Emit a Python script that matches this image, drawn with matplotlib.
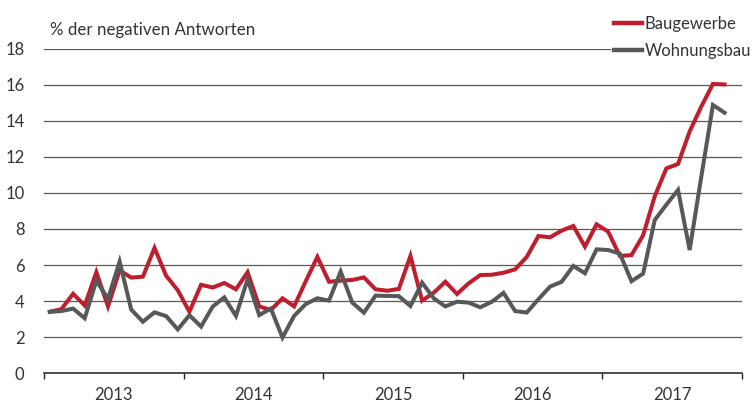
"""Negative answers in construction vs. residential building, monthly 2013-2017."""

import numpy as np
import matplotlib.pyplot as plt
from matplotlib.ticker import FixedLocator, NullFormatter

plt.rcParams["font.family"] = ["Lato", "DejaVu Sans"]

YEARS = ["2013", "2014", "2015", "2016", "2017"]

# monthly values, Jan 2013 .. Nov 2017
BAUGEWERBE = [
    3.4, 3.55, 4.4, 3.75, 5.6, 3.7, 5.7, 5.3, 5.35, 6.95, 5.4, 4.6,
    3.4, 4.9, 4.75, 5.0, 4.65, 5.6, 3.7, 3.5, 4.15, 3.7, 5.1, 6.45,
    5.07, 5.13, 5.17, 5.31, 4.65, 4.57, 4.67, 6.5, 4.02, 4.46, 5.07, 4.39,
    4.98, 5.44, 5.46, 5.57, 5.76, 6.45, 7.61, 7.54, 7.91, 8.17, 7.02, 8.26,
    7.85, 6.5, 6.55, 7.65, 9.82, 11.37, 11.61, 13.42, 14.8, 16.06, 16.03,
]
WOHNUNGSBAU = [
    3.4, 3.44, 3.58, 3.04, 5.13, 4.12, 6.19, 3.52, 2.85, 3.37, 3.16, 2.42,
    3.21, 2.58, 3.69, 4.2, 3.17, 5.2, 3.22, 3.58, 1.97, 3.17, 3.83, 4.15,
    4.02, 5.63, 3.91, 3.35, 4.3, 4.28, 4.27, 3.72, 5.02, 4.15, 3.7, 3.96,
    3.91, 3.65, 3.96, 4.45, 3.44, 3.36, 4.1, 4.8, 5.07, 5.95, 5.54, 6.87,
    6.83, 6.63, 5.1, 5.52, 8.5, 9.35, 10.17, 6.83, 10.9, 14.89, 14.46,
]

RED = "#BE1E2D"
GREY = "#56585A"


def main() -> None:
    fig = plt.figure(figsize=(7.52, 4.03), dpi=100)
    ax = fig.add_axes([44 / 752, 30 / 403, 698 / 752, 324 / 403])

    x = np.arange(len(BAUGEWERBE))
    ax.plot(x, BAUGEWERBE, color=RED, lw=2.9, label="Baugewerbe", zorder=3,
            solid_joinstyle="miter")
    ax.plot(x, WOHNUNGSBAU, color=GREY, lw=2.9, label="Wohnungsbau", zorder=3,
            solid_joinstyle="miter")

    ax.set_ylim(0, 18)
    ax.set_yticks(np.arange(0, 19, 2))
    ax.set_xlim(-0.5, 12 * len(YEARS) - 0.5)

    # year boundaries as major ticks, labels centred on the year
    ax.xaxis.set_major_locator(FixedLocator(np.arange(len(YEARS) + 1) * 12 - 0.5))
    ax.xaxis.set_major_formatter(NullFormatter())
    ax.xaxis.set_minor_locator(FixedLocator(np.arange(len(YEARS)) * 12 + 5.5))
    ax.set_xticklabels(YEARS, minor=True)
    ax.tick_params(axis="x", which="major", direction="out", length=4.5,
                   width=1, color="#222222")
    ax.tick_params(axis="x", which="minor", length=0, pad=10, labelsize=12,
                   labelcolor="#333333")
    ax.tick_params(axis="y", length=0, pad=14, labelsize=12, labelcolor="#333333")

    ax.grid(axis="y", color="#5a5a5a", lw=0.9)
    ax.set_axisbelow(True)
    for side in ("left", "right", "top"):
        ax.spines[side].set_visible(False)
    ax.spines["bottom"].set_color("#222222")
    ax.spines["bottom"].set_linewidth(1.1)
    ax.spines["bottom"].set_zorder(4)

    ax.text(0.009, 1.035, "% der negativen Antworten", transform=ax.transAxes,
            ha="left", va="bottom", fontsize=12.2, color="#333333")

    leg = fig.legend(loc="upper left", bbox_to_anchor=(611 / 752, 1 - 13 / 403),
                     frameon=True, facecolor="white", edgecolor="none",
                     framealpha=1, fontsize=12, handlelength=1.65,
                     handletextpad=0.15, labelspacing=0.62, borderpad=0.2,
                     borderaxespad=0)
    for line in leg.get_lines():
        line.set_linewidth(3.2)
    for txt in leg.get_texts():
        txt.set_color("#333333")

    fig.savefig("out.png", dpi=100)


if __name__ == "__main__":
    main()
